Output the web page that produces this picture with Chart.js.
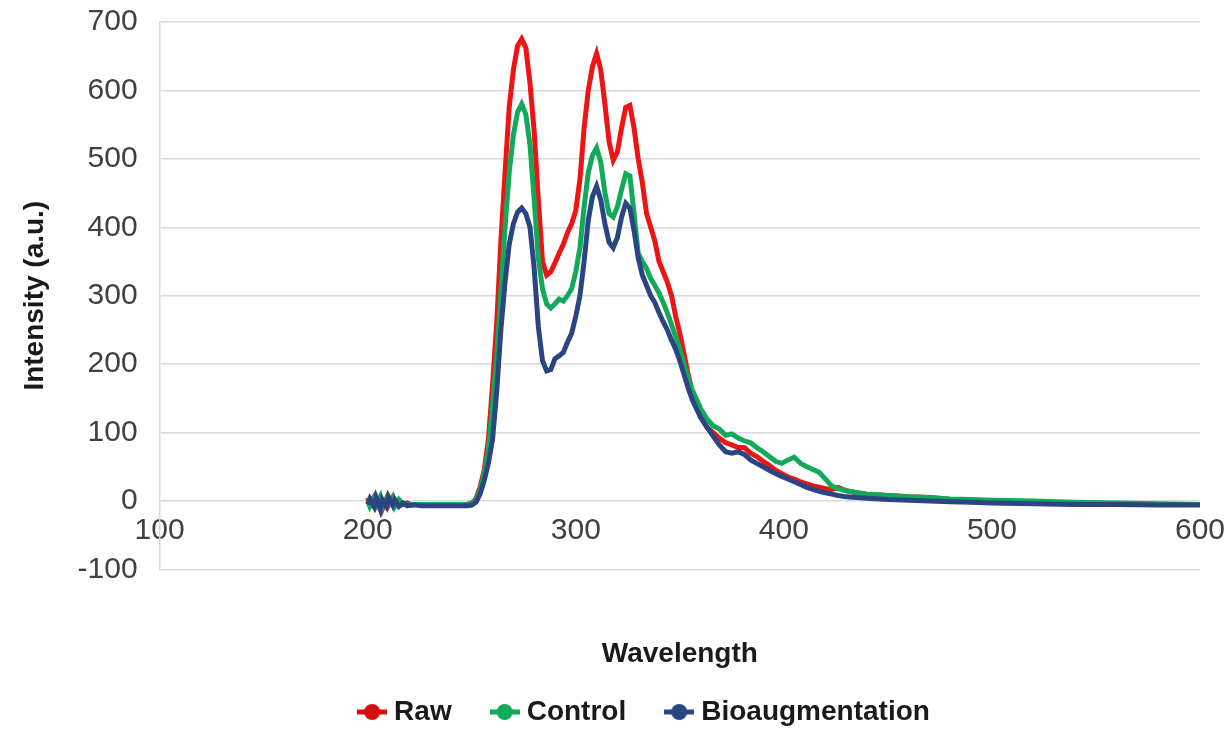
<!DOCTYPE html>
<html>
<head>
<meta charset="utf-8">
<script src="https://cdn.jsdelivr.net/npm/chart.js@4/dist/chart.umd.min.js"></script>
<style>
  html, body { margin: 0; padding: 0; background: #fff; overflow: hidden; }
  #wrap { width: 1230px; height: 730px; position: relative; }
</style>
</head>
<body>
<div id="wrap"><canvas id="chart"></canvas></div>
<script>
// Wavelength grid (nm)
var wavelengths = [
  200, 201, 203, 204, 206, 207, 209, 210, 212, 213, 215, 217, 219, 221, 223,
  226, 230, 235, 240, 245, 248,
  250, 252, 254, 256, 258, 260, 262, 264, 266, 268,
  270, 272, 274, 276, 278, 280, 282, 284, 286, 288,
  290, 292, 294, 296, 298, 300, 302, 304, 306, 308,
  310, 312, 314, 316, 318, 320, 322, 324, 326, 328,
  330, 332, 334, 336, 338, 340, 342, 344, 346, 348,
  350, 352, 354, 356, 358, 360,
  363, 366, 369, 372, 375, 378, 381, 384, 387, 390, 393,
  396, 399, 402, 405, 408, 411, 414, 417, 420, 423, 426,
  430, 435, 440, 450, 460, 470, 480, 490, 500, 520, 540, 560, 580, 600
];

var rawValues = [
  5, -3, 6, -8, 2, -12, 3, -6, 5, -4, 0, -5, -3, -6, -5,
  -5, -6, -6, -6, -6, -5,
  -3, 3, 20, 45, 90, 170, 260, 380, 480, 575,
  630, 665, 675, 662, 610, 540, 440, 350, 330, 335,
  348, 362, 375, 392, 405, 425, 470, 545, 600, 635,
  654, 630, 580, 525, 498, 510, 545, 575, 578, 545,
  500, 465, 420, 400, 380, 350, 335, 320, 300, 270,
  245, 215, 185, 160, 140, 125,
  108, 100, 92, 85, 82, 78, 78, 70, 65, 58, 52,
  45, 40, 35, 32, 28, 25, 22, 20, 18, 17, 20,
  15, 12, 10, 8, 6, 5, 2, 1, 0, -2, -3, -4, -5, -5
];

var controlValues = [
  0, -8, 4, -6, 6, -10, 3, -4, 5, -8, 2, -4, -6, -5, -5,
  -5, -5, -5, -5, -5, -5,
  -3, 2, 15, 40, 75, 140, 210, 305, 400, 480,
  535, 568, 580, 565, 520, 440, 355, 310, 288, 282,
  288, 295, 292, 300, 310, 335, 370, 430, 480, 505,
  516, 495, 450, 420, 415, 430, 455, 478, 475, 420,
  362, 350, 340, 325, 315, 304, 290, 275, 258, 240,
  222, 200, 180, 162, 149, 135,
  120, 110, 105, 96, 98, 92, 88, 85, 78, 72, 65,
  58, 55, 60, 64, 55, 50, 46, 42, 32, 22, 18,
  15, 12, 10, 8, 6, 5, 3, 2, 1, 0, -2, -3, -4, -5
];

var bioValues = [
  -5, 3, -8, 5, -12, 2, -8, 6, -6, 2, -8, -3, -7, -6, -6,
  -7, -7, -7, -7, -7, -7,
  -6, -2, 10, 30, 55, 90, 160, 250, 320, 375,
  405, 422, 428, 420, 400, 340, 255, 205, 190, 192,
  208, 212, 217, 232, 245, 270, 300, 350, 410, 445,
  460, 440, 405, 378, 370, 385, 415, 435, 428, 395,
  355, 330, 315, 300, 290, 275, 262, 250, 235, 222,
  205, 185, 165, 148, 135, 122,
  108, 95, 82, 72, 70, 72, 68, 60, 55, 50, 45,
  40, 36, 32, 28, 24, 20, 17, 14, 12, 10, 8,
  6, 5, 4, 2, 1, 0, -1, -2, -3, -4, -5, -5, -6, -6
];

var seriesLabels = ['Raw', 'Control', 'Bioaugmentation'];
var yTicks = [-100, 0, 100, 200, 300, 400, 500, 600, 700];
var xTicks = [100, 200, 300, 400, 500, 600];

var COLORS = ['#ee1414', '#12a95a', '#2b4582'];
var KEY_COLORS = ['#d40f0f', '#12a95a', '#2b4582'];
var FONT = '"Liberation Sans", Arial, sans-serif';
var TXT = '#404040';

function points(vals) {
  return wavelengths.map(function (w, i) { return { x: w, y: vals[i] }; });
}

// Excel-style legend key: short line with a round marker
function legendMarker(color) {
  var c = document.createElement('canvas');
  c.width = 30; c.height = 18;
  var g = c.getContext('2d');
  g.strokeStyle = color; g.lineWidth = 5;
  g.beginPath(); g.moveTo(0, 9); g.lineTo(30, 9); g.stroke();
  g.fillStyle = color;
  g.beginPath(); g.arc(15, 9, 8, 0, Math.PI * 2); g.fill();
  return c;
}

var datasets = [rawValues, controlValues, bioValues].map(function (vals, i) {
  return {
    label: seriesLabels[i],
    data: points(vals),
    borderColor: COLORS[i],
    backgroundColor: COLORS[i],
    borderWidth: 5,
    pointRadius: 0,
    pointStyle: legendMarker(KEY_COLORS[i]),
    tension: 0,
    order: 2 - i   // blue drawn on top, as in the reference
  };
});

// the reference legend sits a little right of the canvas centre
var legendShift = {
  id: 'legendShift',
  afterUpdate: function (chart) {
    var l = chart.legend;
    if (l) { l.left += 38; l.right += 38; }
  }
};

new Chart(document.getElementById('chart'), {
  type: 'line',
  data: { datasets: datasets },
  plugins: [legendShift],
  options: {
    responsive: true,
    maintainAspectRatio: false,
    animation: false,
    devicePixelRatio: 1,
    layout: { padding: { top: 0, right: 30, left: 18, bottom: -6 } },
    plugins: {
      tooltip: { enabled: false },
      legend: {
        position: 'bottom',
        labels: {
          usePointStyle: true,
          pointStyleWidth: 16,
          padding: 45,
          color: '#1a1a1a',
          font: { family: FONT, size: 28, weight: 'bold' },
          sort: function (a, b) { return a.datasetIndex - b.datasetIndex; }
        }
      }
    },
    scales: {
      x: {
        type: 'linear',
        position: { y: 0 },
        min: xTicks[0],
        max: xTicks[xTicks.length - 1],
        afterBuildTicks: function (s) { s.ticks = xTicks.map(function (v) { return { value: v }; }); },
        ticks: { color: TXT, padding: 4, font: { family: FONT, size: 30 } },
        grid: { display: false },
        border: { display: false }
      },
      xTitle: {
        type: 'linear',
        axis: 'x',
        position: 'bottom',
        min: xTicks[0],
        max: xTicks[xTicks.length - 1],
        ticks: { display: false },
        grid: { display: false, drawTicks: false },
        border: { display: false },
        title: {
          display: true,
          text: 'Wavelength',
          color: '#1a1a1a',
          font: { family: FONT, size: 28, weight: 'bold' },
          padding: { top: 68, bottom: -18 }
        }
      },
      y: {
        type: 'linear',
        min: yTicks[0],
        max: yTicks[yTicks.length - 1],
        afterBuildTicks: function (s) { s.ticks = yTicks.map(function (v) { return { value: v }; }); },
        ticks: { color: TXT, padding: 4, font: { family: FONT, size: 30 } },
        grid: {
          color: '#d9d9d9', lineWidth: 1.5,
          drawTicks: true, tickLength: 18, tickColor: 'rgba(0,0,0,0)'
        },
        border: { color: '#d9d9d9', width: 1.5 },
        title: {
          display: true,
          text: 'Intensity (a.u.)',
          color: '#1a1a1a',
          font: { family: FONT, size: 28, weight: 'bold' },
          padding: { top: 0, bottom: 22 }
        }
      }
    }
  }
});
</script>
</body>
</html>
